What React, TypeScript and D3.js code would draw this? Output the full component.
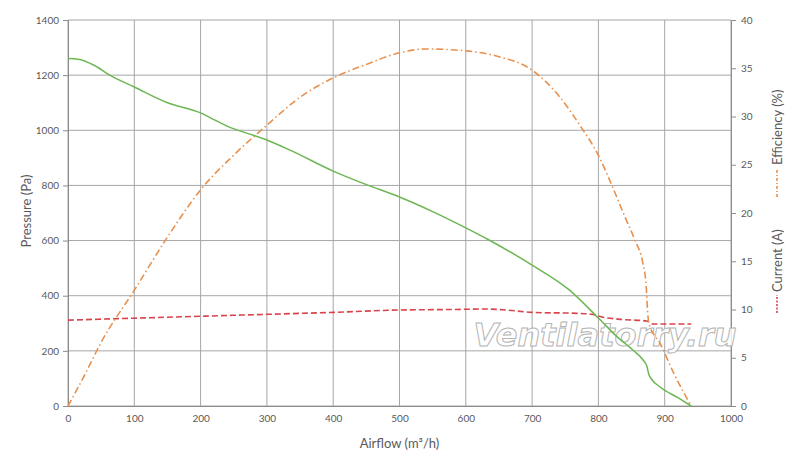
import React, { useRef, useEffect } from 'react';
import * as d3 from 'd3';

// Pressure curve (left axis)
const pressureFlow = [0, 15, 40, 63, 100, 150, 200, 215, 240, 300, 335, 400, 450, 500, 550, 600, 635, 700, 756, 800, 830, 852, 868, 873, 876, 880, 893, 920, 940];
const pressureValues = [1260, 1258, 1235, 1200, 1157, 1100, 1063, 1045, 1015, 965, 928, 852, 803, 758, 705, 646, 602, 511, 421, 319, 247, 203, 165, 145, 115, 98, 69, 30, 0];

// Efficiency curve (right axis, %)
const effFlow = [0, 25, 50, 100, 150, 200, 250, 300, 350, 400, 450, 500, 540, 600, 650, 700, 742, 770, 802, 817, 840, 855, 867, 872, 874, 876, 893, 915, 940];
const effValues = [0, 3.2, 6.6, 12.0, 17.5, 22.4, 26.0, 29.1, 32.0, 34.0, 35.4, 36.6, 37.0, 36.8, 36.2, 34.8, 32.0, 29.3, 25.7, 23.4, 19.6, 17.2, 14.8, 12.5, 10.0, 8.6, 6.5, 3.2, 0];

// Current curve (right axis, A)
const currentFlow = [0, 100, 200, 300, 400, 500, 580, 630, 660, 700, 770, 790, 807, 830, 873, 882, 940];
const currentValues = [8.9, 9.1, 9.3, 9.5, 9.7, 9.95, 10.0, 10.05, 9.95, 9.7, 9.6, 9.5, 9.2, 9.0, 8.8, 8.5, 8.5];

const xTicks = [0, 100, 200, 300, 400, 500, 600, 700, 800, 900, 1000];
const leftTicks = [0, 200, 400, 600, 800, 1000, 1200, 1400];
const rightTicks = [0, 5, 10, 15, 20, 25, 30, 35, 40];

const width = 800;
const height = 466;

const App: React.FC = () => {
  const svgRef = useRef<SVGSVGElement | null>(null);

  useEffect(() => {
    const svg = d3.select(svgRef.current)
      .attr('width', width)
      .attr('height', height)
      .style('background', '#ffffff')
      .style('position', 'absolute')
      .style('left', '0px')
      .style('top', '0px');

    const margin = { top: 20, right: 69, bottom: 60, left: 68 };
    const chartWidth = width - margin.left - margin.right;
    const chartHeight = height - margin.top - margin.bottom;
    const font = 'Lato, "Open Sans", sans-serif';
    const textColor = '#595959';

    const g = svg.append('g')
      .attr('transform', `translate(${margin.left},${margin.top})`);

    const x = d3.scaleLinear().domain([0, 1000]).range([0, chartWidth]);
    const yLeft = d3.scaleLinear().domain([0, 1400]).range([chartHeight, 0]);
    const yRight = d3.scaleLinear().domain([0, 40]).range([chartHeight, 0]);

    // grid
    g.append('g')
      .selectAll('line')
      .data(xTicks)
      .enter()
      .append('line')
      .attr('x1', d => x(d))
      .attr('x2', d => x(d))
      .attr('y1', 0)
      .attr('y2', chartHeight)
      .attr('stroke', '#a6a6a6')
      .attr('stroke-width', 1);

    g.append('g')
      .selectAll('line')
      .data(leftTicks)
      .enter()
      .append('line')
      .attr('x1', 0)
      .attr('x2', chartWidth)
      .attr('y1', d => yLeft(d))
      .attr('y2', d => yLeft(d))
      .attr('stroke', '#a6a6a6')
      .attr('stroke-width', 1);

    // axes
    const styleAxis = (sel: d3.Selection<SVGGElement, unknown, null, undefined>) => {
      sel.select('.domain').attr('stroke', '#8c8c8c');
      sel.selectAll('.tick line').attr('stroke', '#8c8c8c');
      sel.selectAll('.tick text')
        .attr('fill', textColor)
        .style('font-family', font)
        .style('font-size', '10px');
    };

    g.append('g')
      .attr('transform', `translate(0,${chartHeight})`)
      .call(d3.axisBottom(x).tickValues(xTicks).tickSize(0).tickPadding(9).tickFormat(d3.format('d')))
      .call(styleAxis);

    g.append('g')
      .call(d3.axisLeft(yLeft).tickValues(leftTicks).tickSize(5).tickPadding(4).tickFormat(d3.format('d')))
      .call(styleAxis);

    g.append('g')
      .attr('transform', `translate(${chartWidth},0)`)
      .call(d3.axisRight(yRight).tickValues(rightTicks).tickSize(5).tickPadding(5).tickFormat(d3.format('d')))
      .call(styleAxis);

    // watermark
    g.append('text')
      .attr('x', 605 - margin.left)
      .attr('y', 346 - margin.top)
      .attr('text-anchor', 'middle')
      .style('font-family', '"DejaVu Sans", sans-serif')
      .style('font-weight', 'bold')
      .style('font-style', 'italic')
      .style('font-size', '32px')
      .attr('fill', '#ffffff')
      .attr('fill-opacity', 0.85)
      .attr('stroke', '#b4b4b4')
      .attr('stroke-width', 1)
      .text('Ventilatorry.ru');

    // series
    const makeLine = (scale: d3.ScaleLinear<number, number>) =>
      d3.line<[number, number]>()
        .x(d => x(d[0]))
        .y(d => scale(d[1]))
        .curve(d3.curveMonotoneX);

    const currentData = currentFlow.map((f, i) => [f, currentValues[i]] as [number, number]);
    const effData = effFlow.map((f, i) => [f, effValues[i]] as [number, number]);
    const pressureData = pressureFlow.map((f, i) => [f, pressureValues[i]] as [number, number]);

    g.append('path')
      .datum(currentData)
      .attr('fill', 'none')
      .attr('stroke', '#d9434b')
      .attr('stroke-width', 1.6)
      .attr('stroke-dasharray', '6,3')
      .attr('d', makeLine(yRight));

    g.append('path')
      .datum(effData)
      .attr('fill', 'none')
      .attr('stroke', '#e8914f')
      .attr('stroke-width', 1.6)
      .attr('stroke-dasharray', '7,3,1.5,3')
      .attr('d', makeLine(yRight));

    g.append('path')
      .datum(pressureData)
      .attr('fill', 'none')
      .attr('stroke', '#6cb752')
      .attr('stroke-width', 1.5)
      .attr('d', makeLine(yLeft));

    // axis titles
    svg.append('text')
      .attr('transform', `translate(31,${margin.top + chartHeight / 2 - 2}) rotate(-90)`)
      .attr('text-anchor', 'middle')
      .attr('fill', textColor)
      .style('font-family', font)
      .style('font-size', '13px')
      .text('Pressure (Pa)');

    svg.append('text')
      .attr('x', margin.left + chartWidth / 2)
      .attr('y', 448)
      .attr('text-anchor', 'middle')
      .attr('fill', textColor)
      .style('font-family', font)
      .style('font-size', '13px')
      .text('Airflow (m³/h)');

    // legend (rotated, right side)
    const legendItems = [
      { label: 'Efficiency (%)', color: '#e8914f', dash: '3,2,1,2', y0: 197, y1: 168 },
      { label: 'Current (A)', color: '#d9434b', dash: '2,1.5', y0: 313, y1: 295 },
    ];

    const legend = svg.append('g');
    legendItems.forEach(item => {
      legend.append('line')
        .attr('x1', 777)
        .attr('x2', 777)
        .attr('y1', item.y0)
        .attr('y2', item.y1)
        .attr('stroke', item.color)
        .attr('stroke-width', 1.6)
        .attr('stroke-dasharray', item.dash);
      legend.append('text')
        .attr('transform', `translate(782,${item.y1 - 3}) rotate(-90)`)
        .attr('text-anchor', 'start')
        .attr('fill', textColor)
        .style('font-family', font)
        .style('font-size', '13px')
        .text(item.label);
    });

    return () => {
      svg.selectAll('*').remove();
    };
  }, []);

  return <svg ref={svgRef}></svg>;
};

export default App;
